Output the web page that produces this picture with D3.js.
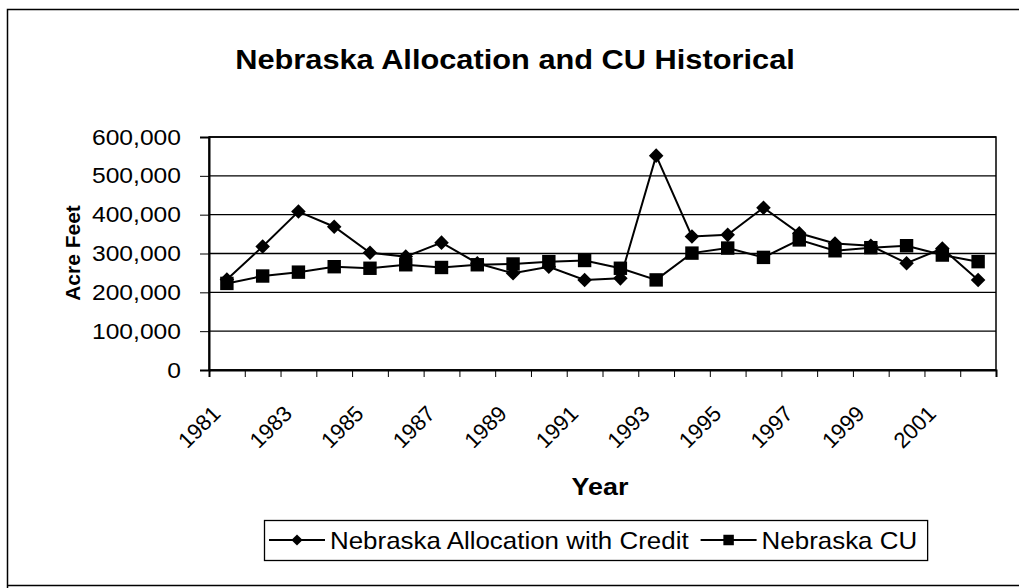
<!DOCTYPE html>
<html><head><meta charset="utf-8">
<script src="https://cdn.jsdelivr.net/npm/d3@7"></script>
<style>
html,body{margin:0;padding:0;background:#fff;}
svg{display:block;font-family:"Liberation Sans",Arial,sans-serif;}
</style></head>
<body>
<svg id="chart" width="1020" height="588"></svg>
<script>
const years = [1981,1982,1983,1984,1985,1986,1987,1988,1989,1990,1991,1992,1993,1994,1995,1996,1997,1998,1999,2000,2001,2002];
const allocationWithCredit = [233000,318000,408000,369000,302000,292000,328000,275000,249000,266000,232000,236000,552000,344000,348000,418000,352000,326000,320000,275000,313000,232000];
const nebraskaCU = [223000,242000,252000,266000,262000,271000,264000,271000,273000,279000,282000,262000,232000,301000,314000,290000,335000,307000,315000,320000,296000,279000];
const yTicks = [0,100000,200000,300000,400000,500000,600000];
const xLabelYears = [1981,1983,1985,1987,1989,1991,1993,1995,1997,1999,2001];
const seriesNames = ["Nebraska Allocation with Credit","Nebraska CU"];

const svg = d3.select("#chart");
const L = 209, R = 996, T = 137, B = 370;
const SX = 1.12; // horizontal stretch of the scanned text

// outer frame (left, top, bottom)
svg.append("path").attr("d","M1019,9.5 H7.5 V588 M7.5,585.5 H1019")
  .attr("fill","none").attr("stroke","#000").attr("stroke-width",1.5);

// title
svg.append("text").attr("transform",`translate(515,69) scale(1.14,1)`).attr("text-anchor","middle")
  .attr("font-size",27).attr("font-weight","bold").text("Nebraska Allocation and CU Historical");

const x = d3.scaleBand().domain(years).range([L,R]);
const xi = d3.scaleLinear().domain([0,years.length]).range([L,R]);
const y = d3.scaleLinear().domain([0,600000]).range([B,T]);

// gridlines
svg.append("g").selectAll("line").data(yTicks).join("line")
  .attr("x1",L).attr("x2",R).attr("y1",d=>y(d)).attr("y2",d=>y(d))
  .attr("stroke","#000").attr("stroke-width",1.3);

// plot border
svg.append("rect").attr("x",L).attr("y",T).attr("width",R-L).attr("height",B-T)
  .attr("fill","none").attr("stroke","#000").attr("stroke-width",1.5);

// y axis
const yAxis = svg.append("g").attr("transform",`translate(${L},0)`)
  .call(d3.axisLeft(y).tickValues(yTicks).tickSize(9).tickPadding(0).tickFormat(d3.format(",")));
yAxis.select(".domain").attr("stroke-width",2);
yAxis.selectAll(".tick text").attr("x",null)
  .attr("font-size",22).attr("font-family","Liberation Sans, Arial, sans-serif").attr("fill","#000")
  .attr("transform",`translate(-28,0) scale(${SX},1)`);

// x axis tick marks at category boundaries
const xTickAxis = svg.append("g").attr("transform",`translate(0,${B})`)
  .call(d3.axisBottom(xi).tickValues(d3.range(0,years.length+1)).tickSize(7).tickFormat(""));
xTickAxis.select(".domain").attr("stroke-width",2);

// x labels
const xLab = svg.append("g").attr("transform",`translate(0,${B})`)
  .call(d3.axisBottom(x).tickValues(xLabelYears).tickSize(0).tickPadding(0));
xLab.select(".domain").remove();
xLab.selectAll("text")
  .attr("font-size",22).attr("font-family","Liberation Sans, Arial, sans-serif").attr("fill","#000")
  .attr("text-anchor","end").attr("dy",0)
  .attr("transform","translate(-5,45) rotate(-45)");

// axis titles
svg.append("text").attr("transform","translate(80,253) rotate(-90)").attr("text-anchor","middle")
  .attr("font-size",21).attr("font-weight","bold").text("Acre Feet");
svg.append("text").attr("transform",`translate(600,495) scale(${SX},1)`).attr("text-anchor","middle")
  .attr("font-size",24).attr("font-weight","bold").text("Year");

// lines
const line = d3.line().x((d,i)=>x(years[i])+x.bandwidth()/2).y(d=>y(d));
svg.append("path").datum(allocationWithCredit).attr("d",line).attr("fill","none").attr("stroke","#000").attr("stroke-width",2);
svg.append("path").datum(nebraskaCU).attr("d",line).attr("fill","none").attr("stroke","#000").attr("stroke-width",2);

const diamond = d3.symbol().type(d3.symbolDiamond2).size(135);
svg.append("g").selectAll("path").data(allocationWithCredit).join("path")
  .attr("transform",(d,i)=>`translate(${x(years[i])+x.bandwidth()/2},${y(d)})`)
  .attr("d",diamond).attr("fill","#000");
const sq = d3.symbol().type(d3.symbolSquare).size(180);
svg.append("g").selectAll("path").data(nebraskaCU).join("path")
  .attr("transform",(d,i)=>`translate(${x(years[i])+x.bandwidth()/2},${y(d)})`)
  .attr("d",sq).attr("fill","#000");

// legend
const lg = svg.append("g");
const lgTop = 520, lgH = 40, lgLeft = 264;
const box = lg.append("rect").attr("y",lgTop+0.5).attr("height",lgH).attr("x",lgLeft+0.5)
  .attr("fill","#fff").attr("stroke","#000").attr("stroke-width",1.3);
let cx = lgLeft + 5;
const syms = [d3.symbol().type(d3.symbolDiamond2).size(80), d3.symbol().type(d3.symbolSquare).size(110)];
seriesNames.forEach((name,k)=>{
  const my = lgTop+lgH/2;
  lg.append("line").attr("x1",cx).attr("x2",cx+56).attr("y1",my).attr("y2",my)
    .attr("stroke","#000").attr("stroke-width",2);
  lg.append("path").attr("d",syms[k]).attr("transform",`translate(${cx+28},${my})`).attr("fill","#000");
  const t = lg.append("text").attr("transform",`translate(${cx+61},${my+9}) scale(1.08,1)`).attr("font-size",24).text(name);
  cx = cx + 61 + t.node().getComputedTextLength()*1.08 + 12;
});
box.attr("width", cx - lgLeft - 2);
</script>
</body></html>
